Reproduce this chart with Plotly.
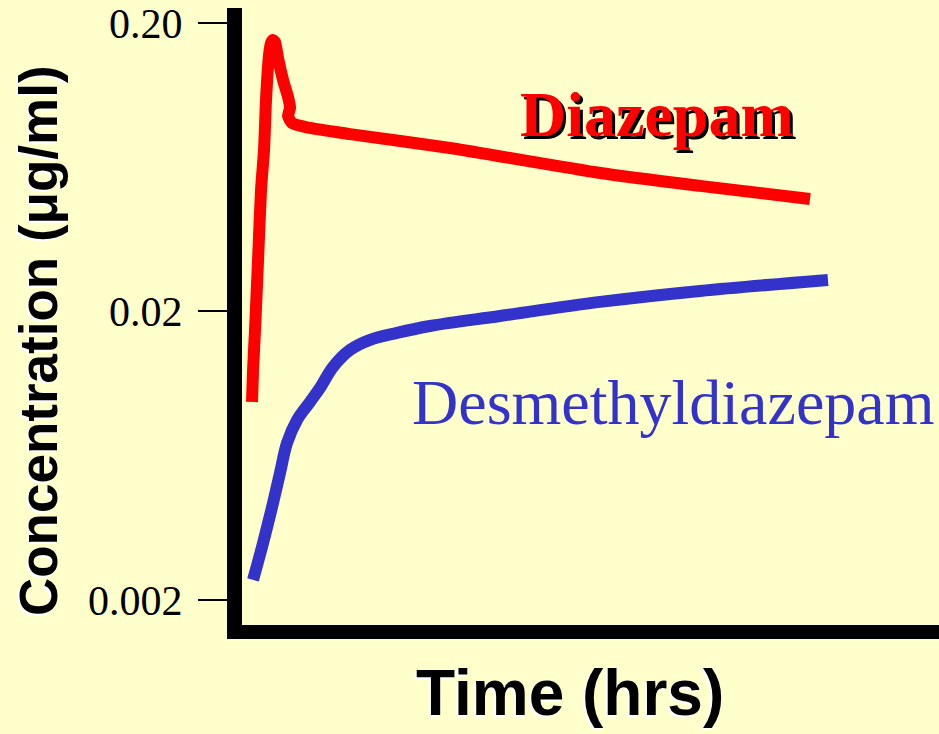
import plotly.graph_objects as go

# Time (hrs) and concentration (ug/ml)
diaz_t = [2.41, 2.56, 2.84, 3.27, 3.69, 4.12, 4.40, 4.83, 5.11, 5.40, 5.68, 6.11,
          6.82, 7.53, 7.81, 7.53, 8.10, 10.65, 16.34, 30.54, 51.85, 66.05, 81.68]
diaz_c = [0.00971, 0.01253, 0.01725, 0.03017, 0.05275, 0.07258, 0.1082, 0.1549,
          0.1704, 0.1746, 0.1718, 0.1512, 0.1269, 0.1108, 0.1015, 0.0952, 0.0900,
          0.0865, 0.0824, 0.0737, 0.0604, 0.0545, 0.0491]

desm_t = [2.56, 3.98, 5.40, 6.39, 7.39, 8.81, 10.65, 12.07, 13.92, 16.34, 19.18,
          23.01, 27.70, 37.64, 51.85, 66.05, 84.23]
desm_c = [0.002346, 0.003151, 0.004337, 0.005510, 0.007003, 0.008412, 0.009712,
          0.01086, 0.01284, 0.01471, 0.01594, 0.01685, 0.01781, 0.01929, 0.02158,
          0.02356, 0.02572]

y_tick_vals = [0.002, 0.02, 0.2]
y_tick_text = ["0.002", "0.02", "0.20"]

BG = "#FFFFCC"
RED = "#FF0000"
BLUE = "#3333CC"

fig = go.Figure()
fig.add_trace(go.Scatter(x=diaz_t, y=diaz_c, mode="lines", name="Diazepam",
                         line=dict(color=RED, width=12, shape="spline", smoothing=0.6)))
fig.add_trace(go.Scatter(x=desm_t, y=desm_c, mode="lines", name="Desmethyldiazepam",
                         line=dict(color=BLUE, width=12, shape="spline", smoothing=1.0)))

ann = []
# Diazepam label with black shadow
for dx, dy, col in [(3, -3, "black"), (0, 0, RED)]:
    ann.append(dict(text="<b>Diazepam</b>", x=0.5954, y=0.8266, xref="paper", yref="paper",
                    xanchor="center", yanchor="middle",
                    xshift=dx, yshift=dy, showarrow=False,
                    font=dict(family="Liberation Serif", size=64, color=col)))
ann.append(dict(text="Desmethyldiazepam", x=0.6177, y=0.3614, xref="paper", yref="paper",
                xanchor="center", yanchor="middle", showarrow=False,
                font=dict(family="Liberation Serif", size=64, color=BLUE)))
# axis titles with white shadow
for dx, dy, col in [(-2, -2, "white"), (0, 0, "black")]:
    ann.append(dict(text="<b>Time (hrs)</b>", x=0.4705, y=-0.1102, xref="paper", yref="paper",
                    xanchor="center", yanchor="middle",
                    xshift=dx, yshift=dy, showarrow=False,
                    font=dict(family="Liberation Sans", size=64, color=col)))
    ann.append(dict(text="<b>Concentration (μg/ml)</b>", x=-0.2912, y=0.4603,
                    xref="paper", yref="paper", textangle=-90,
                    xanchor="center", yanchor="middle",
                    xshift=dx, yshift=dy, showarrow=False,
                    font=dict(family="Liberation Sans", size=53, color=col)))

fig.update_layout(
    width=939, height=734,
    paper_bgcolor=BG, plot_bgcolor=BG,
    margin=dict(l=242, r=0, t=8, b=109),
    showlegend=False,
    annotations=ann,
    xaxis=dict(range=[0.99, 100], showgrid=False, zeroline=False, showticklabels=False,
               ticks="", showline=True, linecolor="black", linewidth=14),
    yaxis=dict(type="log", range=[-2.786, -0.647], showgrid=False, zeroline=False,
               tickvals=y_tick_vals, ticktext=y_tick_text, ticks="outside",
               ticklen=29, tickwidth=2, tickcolor="black", ticklabelstandoff=7,
               showline=True, linecolor="black", linewidth=15,
               tickfont=dict(family="Liberation Serif", size=42, color="black")),
)

fig.write_html("out.html",
               config={"displayModeBar": False},
               post_script="document.body.style.margin='0';"
                           "document.body.style.background='#FFFFCC';")
